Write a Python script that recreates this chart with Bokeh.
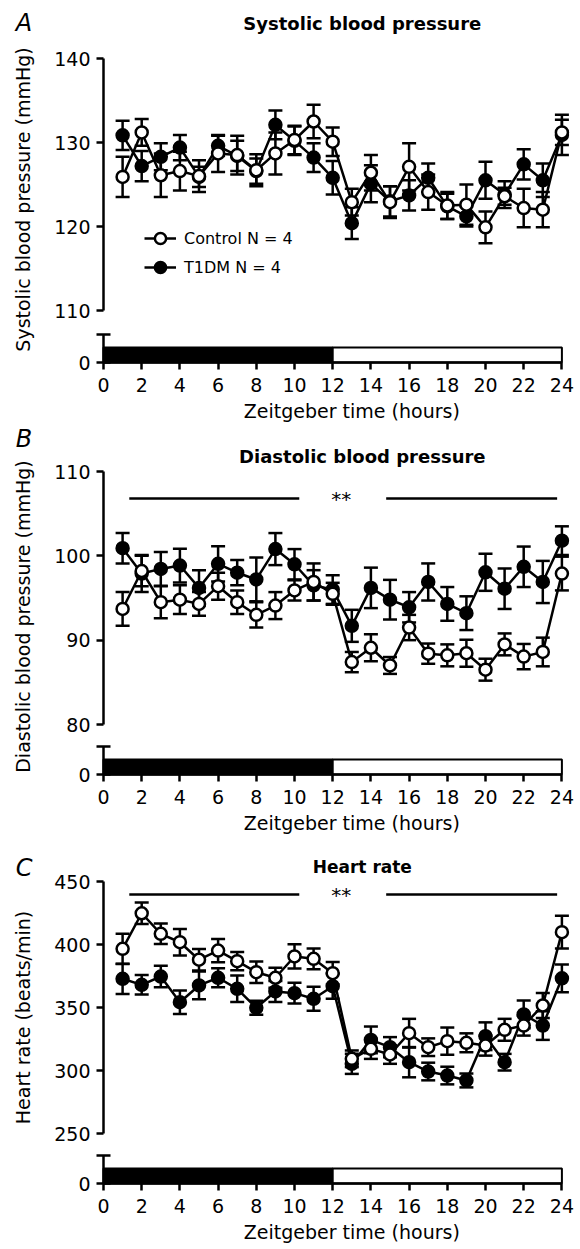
import math
from bokeh.plotting import figure
from bokeh.layouts import column
from bokeh.models import (Range1d, LinearAxis, FixedTicker, CustomJSTickFormatter,
                          Label, Legend, LegendItem, ColumnDataSource)
from bokeh.core.properties import value
from bokeh.embed import file_html
from bokeh.resources import INLINE

# ---------------- data ----------------
hours = list(range(1, 25))

sbp_control = [125.9, 131.2, 126.1, 126.6, 126.0, 128.7, 128.5, 126.7, 128.7, 130.3, 132.5, 130.1,
               122.9, 126.4, 122.9, 127.1, 124.1, 122.5, 122.6, 119.9, 123.6, 122.2, 122.0, 131.2]
sbp_control_sem = [2.4, 1.6, 2.6, 2.3, 1.9, 2.2, 2.3, 1.9, 2.5, 1.7, 2.0, 1.7,
                   1.6, 2.1, 1.9, 2.8, 2.1, 1.6, 2.4, 1.9, 1.0, 2.3, 2.1, 1.5]
sbp_t1dm = [130.85, 127.2, 128.3, 129.4, 125.9, 129.6, 128.4, 126.6, 132.1, 130.2, 128.2, 125.8,
            120.4, 125.1, 123.0, 123.7, 125.8, 122.4, 121.2, 125.5, 123.8, 127.4, 125.5, 130.9]
sbp_t1dm_sem = [1.75, 1.8, 1.6, 1.5, 1.2, 1.2, 1.8, 1.5, 1.7, 1.7, 1.7, 2.0,
                1.9, 2.2, 1.8, 1.8, 1.7, 1.5, 1.2, 2.2, 1.6, 1.8, 2.0, 2.4]

dbp_control = [93.7, 98.2, 94.5, 94.8, 94.3, 96.4, 94.5, 93.0, 94.1, 95.9, 96.9, 95.5,
               87.4, 89.1, 87.0, 91.5, 88.4, 88.2, 88.45, 86.5, 89.5, 88.05, 88.6, 97.9]
dbp_control_sem = [2.0, 1.8, 1.9, 1.7, 1.4, 1.6, 1.4, 1.5, 1.6, 1.2, 2.2, 1.3,
                   1.2, 1.6, 1.0, 1.5, 1.2, 1.3, 1.6, 1.3, 1.3, 1.5, 1.7, 2.0]
dbp_t1dm = [100.9, 97.9, 98.45, 98.85, 96.2, 99.05, 98.0, 97.2, 100.8, 99.0, 96.5, 96.0,
            91.7, 96.2, 94.8, 93.9, 96.9, 94.3, 93.2, 98.05, 96.1, 98.7, 96.9, 101.8]
dbp_t1dm_sem = [1.8, 2.2, 2.0, 2.0, 2.1, 2.1, 1.5, 2.6, 1.9, 1.8, 1.8, 1.7,
                1.9, 2.4, 2.35, 1.8, 2.2, 2.0, 2.0, 2.2, 2.4, 2.4, 2.5, 1.7]

hr_control = [396.6, 424.8, 408.5, 401.8, 387.9, 395.2, 386.8, 378.0, 373.6, 390.5, 388.6, 377.2,
              309.3, 317.2, 312.7, 329.6, 318.5, 323.3, 322.0, 319.8, 332.3, 335.7, 351.6, 409.8]
hr_control_sem = [12.0, 8.6, 8.2, 10.6, 8.6, 9.2, 7.3, 8.6, 8.0, 9.6, 8.3, 9.0,
                  6.6, 8.0, 7.4, 11.4, 7.0, 10.8, 7.5, 8.0, 8.7, 8.0, 10.0, 13.0]
hr_t1dm = [372.8, 368.0, 374.6, 354.2, 367.5, 373.6, 364.8, 349.8, 362.7, 361.4, 356.9, 366.9,
           305.3, 324.3, 318.5, 306.6, 299.2, 296.0, 292.1, 327.2, 306.6, 344.5, 335.7, 373.2]
hr_t1dm_sem = [12.0, 7.7, 8.6, 9.3, 11.0, 7.5, 10.5, 5.6, 8.3, 8.3, 9.5, 10.0,
               8.0, 10.6, 8.0, 12.0, 7.0, 7.0, 5.5, 11.0, 6.6, 11.0, 11.4, 11.0]

x_ticks = list(range(0, 25, 2))
phase_start = [0, 12]          # dark phase, light phase
phase_end = [12, 24]
phase_fill = ["black", "white"]

sig_start = [1.35, 14.8]
sig_end = [10.25, 23.75]
sig_text_x = 12.45
dbp_sig_level = 106.8
hr_sig_level = 439.7

labels_series = ["Control N = 4", "T1DM N = 4"]
x_title = "Zeitgeber time (hours)"

# ---------------- style / layout constants ----------------
FONT = "DejaVu Sans"
LW = 2.5
W = 580
AXIS_X = 103.0          # pixel position of x = 0
PX_PER_HOUR = 19.1
X0 = -AXIS_X / PX_PER_HOUR
X1 = (W - AXIS_X) / PX_PER_HOUR
BREAK_PX = 28
BAR_PX = 15
TITLE_X = 13.55
LETTER_X = -4.6
YLABEL_X = -4.2
XLABEL_X = 13.0
XLABEL_PX = 48


def style_axis(ax):
    ax.axis_line_width = LW
    ax.axis_line_color = "black"
    ax.major_tick_line_width = LW
    ax.major_tick_line_color = "black"
    ax.major_tick_out = 7
    ax.major_tick_in = 0
    ax.minor_tick_line_color = None
    ax.major_label_text_font = FONT
    ax.major_label_text_font_size = "19px"
    ax.major_label_text_color = "black"


def make_panel(letter, title, title_size, ylabel, lo, hi, step,
               ctrl, ctrl_sem, t1, t1_sem,
               top_px, main_px, gap_px, bottom_px,
               title_px, letter_px, ylabel_px, sig_level=None, legend=False):
    frame_h = top_px + main_px + gap_px + bottom_px
    k = main_px / (hi - lo)
    zero = lo - gap_px / k            # main-range value of the x-axis line
    y0 = zero - bottom_px / k
    y1 = hi + top_px / k
    p = figure(frame_width=W, frame_height=frame_h,
               x_range=Range1d(X0, X1), y_range=Range1d(y0, y1),
               output_backend="svg", toolbar_location=None,
               min_border_left=0, min_border_right=0,
               min_border_top=0, min_border_bottom=0)
    p.outline_line_color = None
    p.xgrid.visible = False
    p.ygrid.visible = False
    p.background_fill_color = "white"

    xa = p.xaxis[0]
    style_axis(xa)
    xa.fixed_location = zero
    xa.bounds = (0, 24)
    xa.ticker = FixedTicker(ticks=x_ticks)
    xa.major_label_standoff = 8

    ya = p.yaxis[0]
    style_axis(ya)
    ya.fixed_location = 0
    ya.bounds = (lo, hi)
    ya.ticker = FixedTicker(ticks=list(range(lo, hi + 1, step)))
    ya.major_label_standoff = 6

    # lower (broken) axis segment carrying the dark/light bar
    p.extra_y_ranges = {"bar": Range1d(-bottom_px, frame_h - bottom_px)}
    ba = LinearAxis(y_range_name="bar", fixed_location=0, bounds=(0, BREAK_PX),
                    ticker=FixedTicker(ticks=[0, BREAK_PX]),
                    formatter=CustomJSTickFormatter(code="return tick == 0 ? '0' : '';"))
    style_axis(ba)
    ba.major_tick_in = 7
    ba.major_label_standoff = 6
    p.add_layout(ba, "left")

    p.quad(left=phase_start, right=phase_end, bottom=0, top=BAR_PX,
           fill_color=phase_fill, line_color="black", line_width=2, y_range_name="bar")

    if sig_level is not None:
        p.segment(x0=sig_start, x1=sig_end, y0=[sig_level] * 2, y1=[sig_level] * 2,
                  line_color="black", line_width=LW)
        p.text(x=[sig_text_x], y=[sig_level], text=["**"], text_align="center",
               text_baseline="alphabetic", y_offset=1, text_font=value(FONT),
               text_font_size="20px", text_color="black")

    def series(vals, sem, fill):
        src = ColumnDataSource(dict(x=hours, y=vals,
                                    lo=[v - s for v, s in zip(vals, sem)],
                                    hi=[v + s for v, s in zip(vals, sem)]))
        p.segment(x0="x", y0="lo", x1="x", y1="hi", source=src,
                  line_color="black", line_width=LW)
        p.scatter(x="x", y="hi", marker="dash", size=14, line_color="black",
                  line_width=LW, source=src)
        p.scatter(x="x", y="lo", marker="dash", size=14, line_color="black",
                  line_width=LW, source=src)
        ln = p.line(x="x", y="y", source=src, line_color="black", line_width=LW)
        pts = p.scatter(x="x", y="y", marker="circle", size=12, fill_color=fill,
                        line_color="black", line_width=LW, source=src)
        return ln, pts

    t_ln, t_pts = series(t1, t1_sem, "black")
    c_ln, c_pts = series(ctrl, ctrl_sem, "white")

    if legend:
        lg = Legend(items=[LegendItem(label=labels_series[0], renderers=[c_ln, c_pts]),
                           LegendItem(label=labels_series[1], renderers=[t_ln, t_pts])],
                    location=(144, 81 + bottom_px), padding=0, margin=0, spacing=1,
                    glyph_width=32, glyph_height=28, label_height=22,
                    label_standoff=8, border_line_color=None, background_fill_alpha=0,
                    label_text_font=FONT, label_text_font_size="16px",
                    label_text_color="black")
        p.add_layout(lg)

    p.add_layout(Label(x=TITLE_X, y=hi + title_px / k, text=title, text_align="center",
                       text_baseline="middle", text_font=FONT,
                       text_font_size=title_size, text_font_style="bold",
                       text_color="black"))
    p.add_layout(Label(x=LETTER_X, y=hi + letter_px / k, text=letter, text_align="left",
                       text_baseline="middle", text_font=FONT,
                       text_font_size="24px", text_font_style="italic",
                       text_color="black"))
    p.add_layout(Label(x=YLABEL_X, y=hi - ylabel_px / k, text=ylabel, angle=math.pi / 2,
                       text_align="center", text_baseline="middle", text_font=FONT,
                       text_font_size="19px", text_color="black"))
    p.add_layout(Label(x=XLABEL_X, y=zero - XLABEL_PX / k, text=x_title,
                       text_align="center", text_baseline="middle", text_font=FONT,
                       text_font_size="19px", text_color="black"))
    return p


pA = make_panel("A", "Systolic blood pressure", "18px", "Systolic blood pressure (mmHg)",
                110, 140, 10, sbp_control, sbp_control_sem, sbp_t1dm, sbp_t1dm_sem,
                top_px=58, main_px=252, gap_px=52, bottom_px=62,
                title_px=35, letter_px=36, ylabel_px=141, legend=True)
pB = make_panel("B", "Diastolic blood pressure", "18px", "Diastolic blood pressure (mmHg)",
                80, 110, 10, dbp_control, dbp_control_sem, dbp_t1dm, dbp_t1dm_sem,
                top_px=47, main_px=253, gap_px=50, bottom_px=68,
                title_px=15, letter_px=33, ylabel_px=145, sig_level=dbp_sig_level)
pC = make_panel("C", "Heart rate", "17px", "Heart rate (beats/min)",
                250, 450, 50, hr_control, hr_control_sem, hr_t1dm, hr_t1dm_sem,
                top_px=39, main_px=252, gap_px=50, bottom_px=65,
                title_px=15, letter_px=14, ylabel_px=136, sig_level=hr_sig_level)

layout = column(pA, pB, pC, spacing=0)
open("out.html", "w").write(file_html(layout, INLINE))
